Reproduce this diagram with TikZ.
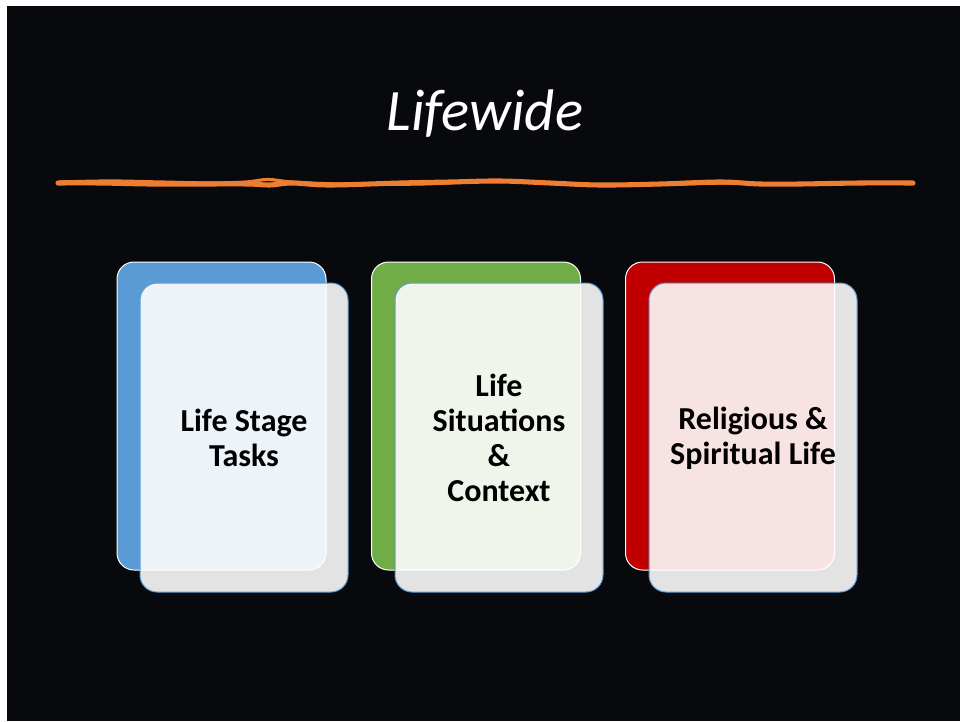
\documentclass[tikz,border=0pt]{standalone}
\usepackage{fontspec}
\setmainfont{Carlito}
\usetikzlibrary{positioning}
\definecolor{slidebg}{RGB}{7,9,12}
\definecolor{cardblue}{RGB}{91,155,213}
\definecolor{cardgreen}{RGB}{112,173,71}
\definecolor{cardred}{RGB}{192,0,0}
\definecolor{pen}{RGB}{237,125,49}
\tikzset{
	backcard/.style={draw=white, line width=0.75pt, rounded corners=12.75pt, minimum width=156.75pt, minimum height=231pt, inner sep=0pt},
	frontcard/.style={draw=cardblue, line width=0.75pt, fill=white, fill opacity=0.89, text opacity=1, rounded corners=12.75pt, minimum width=156pt, minimum height=231.75pt, inner sep=0pt, align=center, text=black, font=\bfseries\fontsize{24}{26.25}\selectfont},
	marker/.style={pen, line cap=round, line join=round}
}
\begin{document}
\begin{tikzpicture}[x=0.75pt, y=-0.75pt]
		\useasboundingbox (0,0) rectangle (960,721);
		\fill [white] (0,0) rectangle (960,721);
		\fill [slidebg] (7,6) rectangle (960,721);
		\node [anchor=base, text=white, font=\itshape\fontsize{44}{48}\selectfont](title) at (485,130) {Lifewide};
		\draw [marker, line width=3.8pt] plot [smooth, tension=0.6] coordinates {(58,183) (100,183) (150,184) (200,184) (248,184) (270,185) (292,183) (330,185) (400,183) (450,182) (500,181) (550,183) (600,185) (660,184) (720,182) (760,184) (800,184) (860,183) (913,183)};
		\draw [marker, line width=2.4pt] plot [smooth, tension=0.6] coordinates {(60,182) (110,181) (160,182) (210,183) (246,182) (268,179.5) (292,182) (340,184) (420,184) (500,181) (560,184) (610,185) (680,184) (730,183) (790,184) (850,183) (910,182.5)};
		\node [backcard, fill=cardblue](stageback) at (221.5,416) {};
		\node [frontcard](stage) at (244,437.5) {Life Stage\\Tasks};
		\node [backcard, fill=cardgreen](situback) at (476,416) {};
		\node [frontcard](situ) at (499,437.5) {Life\\Situations\\\&\\Context};
		\node [backcard, fill=cardred](religback) at (730,416) {};
		\node [frontcard](relig) at (753,437.5) {\strut Religious \&\\Spiritual Life};
\end{tikzpicture}
\end{document}
